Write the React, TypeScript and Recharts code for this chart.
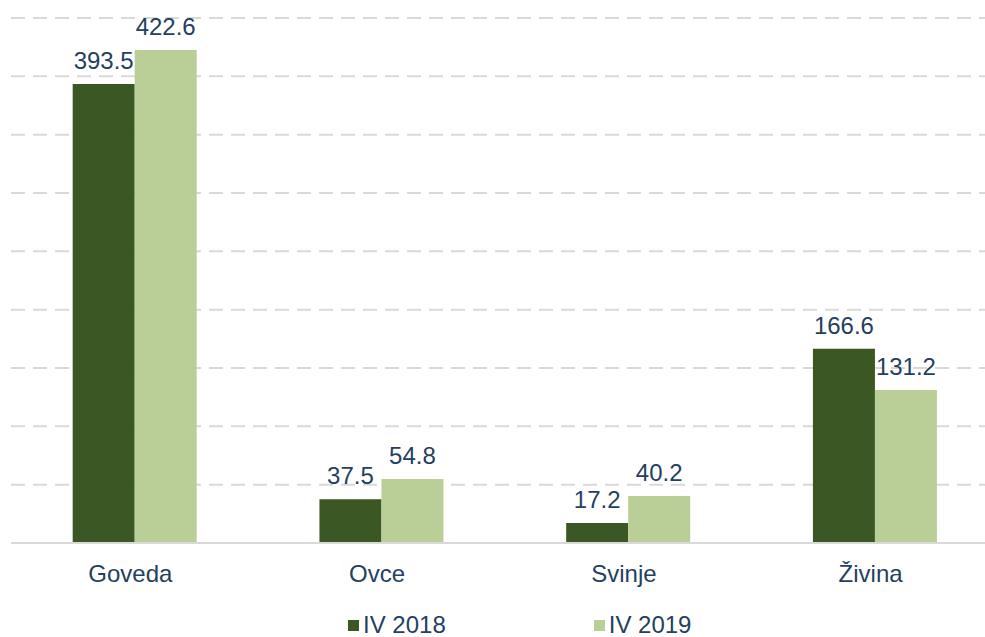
import { BarChart, Bar, XAxis, YAxis, CartesianGrid, LabelList, Legend } from 'recharts';

const categories = ['Goveda', 'Ovce', 'Svinje', 'Živina'];
const iv2018 = [393.5, 37.5, 17.2, 166.6];
const iv2019 = [422.6, 54.8, 40.2, 131.2];
const yTicks = [0, 50, 100, 150, 200, 250, 300, 350, 400, 450];

const DARK = '#3B5724';
const LIGHT = '#BACF98';
const TEXT = '#243F60';

const data = categories.map((name, i) => ({ name, a: iv2018[i], b: iv2019[i] }));

const LegendBox = () => (
  <div style={{ display: 'flex', gap: 148, fontSize: 24, lineHeight: '24px', color: TEXT, paddingLeft: 337, paddingTop: 20 }}>
    <span style={{ display: 'flex', alignItems: 'center' }}>
      <span style={{ width: 11, height: 11, background: DARK, marginRight: 4, display: 'inline-block' }} />IV 2018
    </span>
    <span style={{ display: 'flex', alignItems: 'center' }}>
      <span style={{ width: 11, height: 11, background: LIGHT, marginRight: 4, display: 'inline-block' }} />IV 2019
    </span>
  </div>
);

export default function App() {
  return (
    <div style={{ position: 'absolute', left: 0, top: 0, width: 985, height: 637, overflow: 'hidden', background: '#fff', fontFamily: '"Liberation Sans", Arial, sans-serif' }}>
      <BarChart width={1000} height={637} data={data} margin={{ top: 18, right: 2, left: 11, bottom: 0 }} barGap={0} barCategoryGap="25%">
        <CartesianGrid stroke="#D9D9D9" strokeWidth={2} strokeDasharray="14 8" vertical={false} />
        <XAxis
          dataKey="name"
          height={50}
          tickLine={false}
          axisLine={{ stroke: '#D9D9D9', strokeWidth: 2 }}
          tick={{ fontSize: 24, fill: TEXT, dx: -4 }}
          tickMargin={16}
        />
        <YAxis hide domain={[0, 450]} ticks={yTicks} />
        <Legend verticalAlign="bottom" height={44} content={<LegendBox />} />
        <Bar dataKey="a" fill={DARK} isAnimationActive={false}>
          <LabelList dataKey="a" position="top" offset={15} style={{ fontSize: 24, fill: TEXT }} formatter={(v: number) => v.toFixed(1)} />
        </Bar>
        <Bar dataKey="b" fill={LIGHT} isAnimationActive={false}>
          <LabelList dataKey="b" position="top" offset={15} style={{ fontSize: 24, fill: TEXT }} formatter={(v: number) => v.toFixed(1)} />
        </Bar>
      </BarChart>
    </div>
  );
}
